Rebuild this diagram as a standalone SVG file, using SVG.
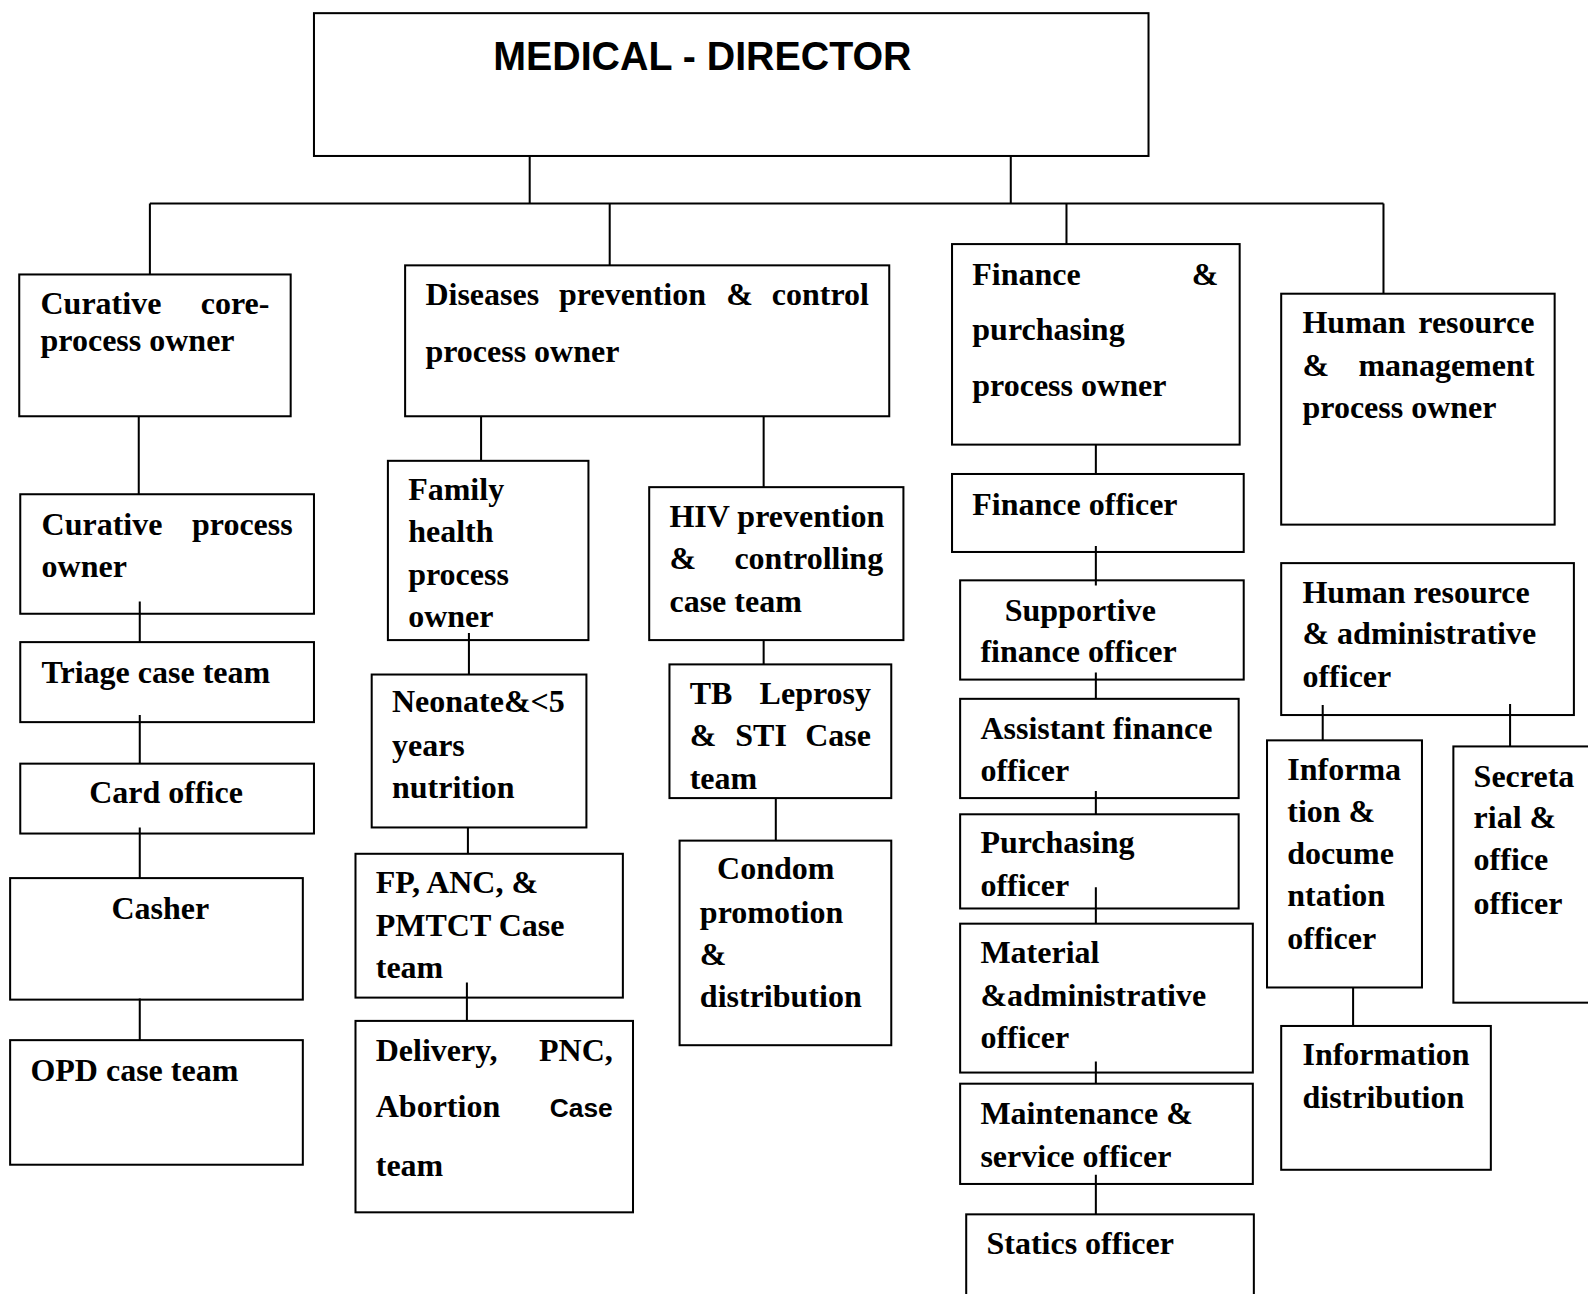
<svg xmlns="http://www.w3.org/2000/svg" width="1588" height="1294" viewBox="0 0 1588 1294">
<style>
.b{fill:#fff;stroke:#000;stroke-width:2}
.c{stroke:#000;stroke-width:2;fill:none}
.t{font-family:"Liberation Serif","Times New Roman",serif;font-weight:bold;font-size:31.6px;fill:#000}
.s{font-family:"Liberation Sans",Arial,sans-serif;font-weight:bold}
.e{text-anchor:end}
</style>
<rect width="1588" height="1294" fill="#fff"/>
<g transform="scale(1.0128)">
<g id="director">
<rect class="b" x="310" y="13" width="824" height="141"/>
<text x="487" y="69" font-family="'Liberation Sans',Arial,sans-serif" font-weight="bold" font-size="40" textLength="413" lengthAdjust="spacingAndGlyphs">MEDICAL - DIRECTOR</text>
</g>
<g id="curative-core">
<rect class="b" x="19" y="271" width="268" height="140"/>
<text class="t"><tspan x="40" y="310">Curative</tspan><tspan class="e" x="266" y="310">core-</tspan><tspan x="40" y="347">process owner</tspan></text>
</g>
<g id="diseases">
<rect class="b" x="400" y="262" width="478" height="149"/>
<text class="t"><tspan x="420" y="301">Diseases</tspan><tspan x="552" y="301">prevention</tspan><tspan x="717" y="301">&amp;</tspan><tspan class="e" x="858" y="301">control</tspan><tspan x="420" y="357">process owner</tspan></text>
</g>
<g id="finance-owner">
<rect class="b" x="940" y="241" width="284" height="198"/>
<text class="t"><tspan x="960" y="281">Finance</tspan><tspan class="e" x="1203" y="281">&amp;</tspan><tspan x="960" y="336">purchasing</tspan><tspan x="960" y="391">process owner</tspan></text>
</g>
<g id="hr-owner">
<rect class="b" x="1265" y="290" width="270" height="228"/>
<text class="t"><tspan x="1286" y="329">Human</tspan><tspan class="e" x="1515" y="329">resource</tspan><tspan x="1286" y="371">&amp;</tspan><tspan class="e" x="1515" y="371">management</tspan><tspan x="1286" y="413">process owner</tspan></text>
</g>
<g id="curative-process">
<rect class="b" x="20" y="488" width="290" height="118"/>
<text class="t"><tspan x="41" y="528">Curative</tspan><tspan class="e" x="289" y="528">process</tspan><tspan x="41" y="570">owner</tspan></text>
</g>
<g id="triage">
<rect class="b" x="20" y="634" width="290" height="79"/>
<text class="t" x="41" y="674">Triage case team</text>
</g>
<g id="card-office">
<rect class="b" x="20" y="754" width="290" height="69"/>
<text class="t" x="88" y="793">Card office</text>
</g>
<g id="casher">
<rect class="b" x="10" y="867" width="289" height="120"/>
<text class="t" x="110" y="907">Casher</text>
</g>
<g id="opd">
<rect class="b" x="10" y="1027" width="289" height="123"/>
<text class="t" x="30" y="1067">OPD case team</text>
</g>
<g id="family-health">
<rect class="b" x="383" y="455" width="198" height="177"/>
<text class="t"><tspan x="403" y="494">Family</tspan><tspan x="403" y="535">health</tspan><tspan x="403" y="578">process</tspan><tspan x="403" y="619">owner</tspan></text>
</g>
<g id="neonate">
<rect class="b" x="367" y="666" width="212" height="151"/>
<text class="t"><tspan x="387" y="703">Neonate&amp;&lt;5</tspan><tspan x="387" y="746">years</tspan><tspan x="387" y="788">nutrition</tspan></text>
</g>
<g id="fp-anc">
<rect class="b" x="351" y="843" width="264" height="142"/>
<text class="t"><tspan x="371" y="882">FP, ANC, &amp;</tspan><tspan x="371" y="924">PMTCT Case</tspan><tspan x="371" y="966">team</tspan></text>
</g>
<g id="delivery">
<rect class="b" x="351" y="1008" width="274" height="189"/>
<text class="t"><tspan x="371" y="1048">Delivery,</tspan><tspan class="e" x="605" y="1048">PNC,</tspan><tspan x="371" y="1103">Abortion</tspan><tspan class="e s" x="605" y="1103" font-size="26">Case</tspan><tspan x="371" y="1161">team</tspan></text>
</g>
<g id="hiv">
<rect class="b" x="641" y="481" width="251" height="151"/>
<text class="t"><tspan x="661" y="520">HIV prevention</tspan><tspan x="661" y="562">&amp;</tspan><tspan class="e" x="872" y="562">controlling</tspan><tspan x="661" y="604">case team</tspan></text>
</g>
<g id="tb">
<rect class="b" x="661" y="656" width="219" height="132"/>
<text class="t"><tspan x="681" y="695">TB</tspan><tspan class="e" x="860" y="695">Leprosy</tspan><tspan x="681" y="737">&amp;</tspan><tspan x="726" y="737">STI</tspan><tspan class="e" x="860" y="737">Case</tspan><tspan x="681" y="779">team</tspan></text>
</g>
<g id="condom">
<rect class="b" x="671" y="830" width="209" height="202"/>
<text class="t"><tspan x="708" y="868">Condom</tspan><tspan x="691" y="911">promotion</tspan><tspan x="691" y="953">&amp;</tspan><tspan x="691" y="994">distribution</tspan></text>
</g>
<g id="finance-officer">
<rect class="b" x="940" y="468" width="288" height="77"/>
<text class="t" x="960" y="508">Finance officer</text>
</g>
<g id="supportive">
<rect class="b" x="948" y="573" width="280" height="98"/>
<text class="t"><tspan x="992" y="613">Supportive</tspan><tspan x="968" y="654">finance officer</tspan></text>
</g>
<g id="assistant">
<rect class="b" x="948" y="690" width="275" height="98"/>
<text class="t"><tspan x="968" y="730">Assistant finance</tspan><tspan x="968" y="771">officer</tspan></text>
</g>
<g id="purchasing">
<rect class="b" x="948" y="804" width="275" height="93"/>
<text class="t"><tspan x="968" y="842">Purchasing</tspan><tspan x="968" y="885">officer</tspan></text>
</g>
<g id="material">
<rect class="b" x="948" y="912" width="289" height="147"/>
<text class="t"><tspan x="968" y="951">Material</tspan><tspan x="968" y="993">&amp;administrative</tspan><tspan x="968" y="1035">officer</tspan></text>
</g>
<g id="maintenance">
<rect class="b" x="948" y="1070" width="289" height="99"/>
<text class="t"><tspan x="968" y="1110">Maintenance &amp;</tspan><tspan x="968" y="1152">service officer</tspan></text>
</g>
<g id="statics">
<rect class="b" x="954" y="1199" width="284" height="110"/>
<text class="t" x="974" y="1238">Statics officer</text>
</g>
<g id="hr-admin">
<rect class="b" x="1265" y="556" width="289" height="150"/>
<text class="t"><tspan x="1286" y="595">Human resource</tspan><tspan x="1286" y="636">&amp; administrative</tspan><tspan x="1286" y="678">officer</tspan></text>
</g>
<g id="info-doc">
<rect class="b" x="1251" y="731" width="153" height="244"/>
<text class="t"><tspan x="1271" y="770">Informa</tspan><tspan x="1271" y="812">tion &amp;</tspan><tspan x="1271" y="853">docume</tspan><tspan x="1271" y="895">ntation</tspan><tspan x="1271" y="937">officer</tspan></text>
</g>
<g id="secretarial">
<rect class="b" x="1435" y="737" width="170" height="253"/>
<text class="t"><tspan x="1455" y="777">Secreta</tspan><tspan x="1455" y="818">rial &amp;</tspan><tspan x="1455" y="859">office</tspan><tspan x="1455" y="902">officer</tspan></text>
</g>
<g id="info-dist">
<rect class="b" x="1265" y="1013" width="207" height="142"/>
<text class="t"><tspan x="1286" y="1052">Information</tspan><tspan x="1286" y="1094">distribution</tspan></text>
</g>
<g id="connectors" class="c">
<path d="M523 154V201M998 154V201M148 201H1366M148 201V271M602 201V262M1053 201V241M1366 201V290"/>
<path d="M137 411V488M138 594V634M138 706V754M138 817V867M138 986V1027"/>
<path d="M475 411V455M463 625V666M462 817V843M461 970V1008"/>
<path d="M754 411V481M754 632V656M766 788V830"/>
<path d="M1082 439V468M1082 539V578M1082 664V690M1082 781V804M1082 876V912M1082 1048V1070M1082 1160V1199"/>
<path d="M1306 696V731M1491 695V737M1336 975V1013"/>
</g>
</g>
</svg>
